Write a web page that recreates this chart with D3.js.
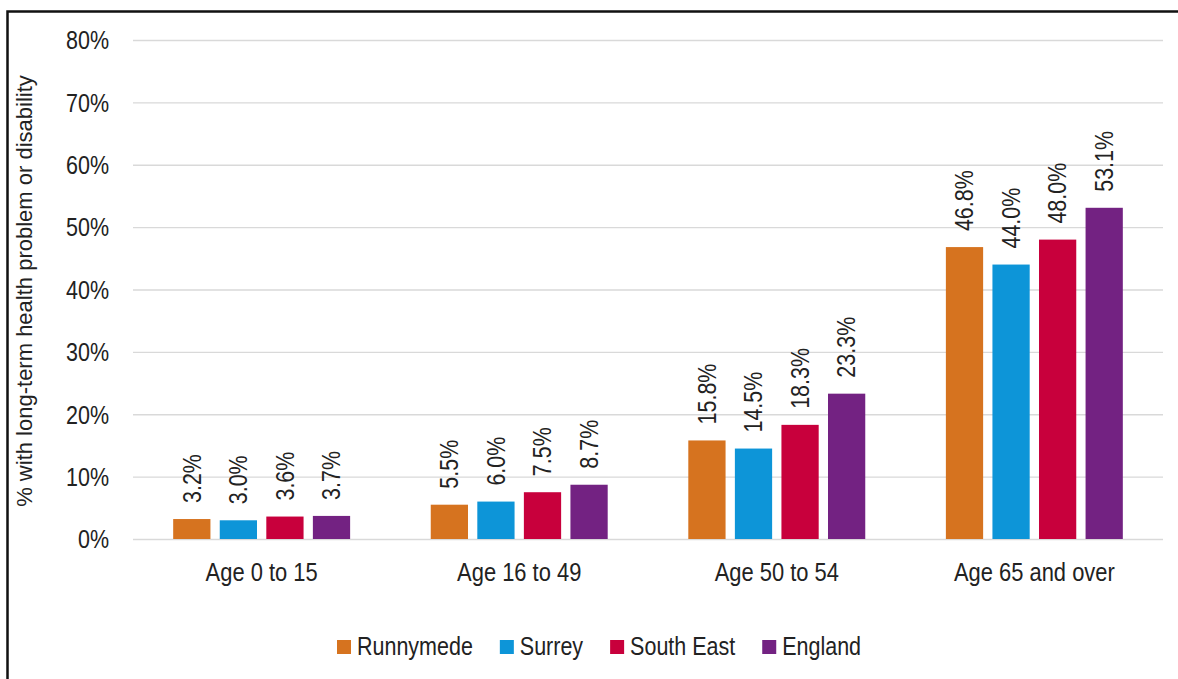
<!DOCTYPE html>
<html>
<head>
<meta charset="utf-8">
<script src="https://cdn.jsdelivr.net/npm/d3@7/dist/d3.min.js"></script>
<style>
  html, body { margin: 0; padding: 0; background: #fff; }
  svg { display: block; }
  text { font-family: "Liberation Sans", Arial, sans-serif; fill: #222; }
</style>
</head>
<body>
<svg id="chart" width="1178" height="679"></svg>
<script>
// Age bands on the x axis
const ageGroups = ["Age 0 to 15", "Age 16 to 49", "Age 50 to 54", "Age 65 and over"];
// Areas compared within each age band
const areas = ["Runnymede", "Surrey", "South East", "England"];
const areaColors = ["#D6731F", "#0D95D8", "#C8003C", "#732282"];
// % with long-term health problem or disability, one array per area
const runnymede = [3.2, 5.5, 15.8, 46.8];
const surrey    = [3.0, 6.0, 14.5, 44.0];
const southEast = [3.6, 7.5, 18.3, 48.0];
const england   = [3.7, 8.7, 23.3, 53.1];
const yTicks = [0, 10, 20, 30, 40, 50, 60, 70, 80];
const yTitle = "% with long-term health problem or disability";

const seriesValues = [runnymede, surrey, southEast, england];

// horizontal squeeze giving a condensed ("narrow") look to the labels
const SQ = 0.86;

const svg = d3.select("#chart");

// outer frame
svg.append("rect")
  .attr("x", 7.5).attr("y", 11.5)
  .attr("width", 1200).attr("height", 700)
  .attr("fill", "none").attr("stroke", "#111").attr("stroke-width", 2.5);

const plot = { left: 133, right: 1163, top: 40, bottom: 539 };

const y = d3.scaleLinear().domain([0, 80]).range([plot.bottom, plot.top]);
const x0 = d3.scaleBand().domain(ageGroups).range([plot.left, plot.right])
  .paddingInner(0.313).paddingOuter(0.156);
const x1 = d3.scaleBand().domain(areas).range([0, x0.bandwidth()]).paddingInner(0.2);
const color = d3.scaleOrdinal().domain(areas).range(areaColors);

// gridlines + y tick labels
const yAxis = d3.axisLeft(y).tickValues(yTicks)
  .tickSize(-(plot.right - plot.left))
  .tickPadding(24)
  .tickFormat(d => d + "%");
const gy = svg.append("g")
  .attr("transform", `translate(${plot.left},0)`)
  .call(yAxis);
gy.select(".domain").remove();
gy.selectAll(".tick line").attr("stroke", "#d9d9d9").attr("stroke-width", 1.3);
gy.selectAll(".tick text")
  .attr("font-size", 25)
  .attr("fill", "#262626")
  .attr("x", -24 / SQ)
  .attr("dy", "0.35em")
  .attr("transform", `scale(${SQ},1)`);

// y axis title
svg.append("text")
  .attr("font-size", 22)
  .attr("text-anchor", "middle")
  .attr("transform", `translate(32,${291}) rotate(-90)`)
  .text(yTitle);

// category labels
const gx = svg.append("g")
  .attr("transform", `translate(0,${plot.bottom})`)
  .call(d3.axisBottom(x0).tickSize(0).tickPadding(0));
gx.select(".domain").remove();
gx.selectAll(".tick text")
  .attr("font-size", 25.5)
  .attr("fill", "#222")
  .attr("y", 42)
  .attr("dy", 0)
  .attr("transform", `scale(${SQ},1)`);

// bars and value labels
const groups = svg.append("g").selectAll("g")
  .data(ageGroups)
  .join("g")
  .attr("transform", d => `translate(${x0(d)},0)`);

const cells = groups.selectAll("g")
  .data((g, gi) => areas.map((a, ai) => ({ area: a, value: seriesValues[ai][gi] })))
  .join("g");

cells.append("rect")
  .attr("x", d => x1(d.area))
  .attr("y", d => y(d.value))
  .attr("width", x1.bandwidth())
  .attr("height", d => y(0) - y(d.value))
  .attr("fill", d => color(d.area));

cells.append("text")
  .attr("font-size", 25)
  .attr("transform", d => `translate(${x1(d.area) + x1.bandwidth() / 2},${y(d.value) - 16}) rotate(-90) scale(${SQ},1)`)
  .attr("dy", "0.35em")
  .attr("text-anchor", "start")
  .text(d => d.value.toFixed(1) + "%");

// legend
const legend = svg.append("g").attr("transform", "translate(337,0)");
let lx = 0;
areas.forEach(a => {
  const item = legend.append("g").attr("transform", `translate(${lx},0)`);
  item.append("rect")
    .attr("x", 0).attr("y", 640)
    .attr("width", 14).attr("height", 14)
    .attr("fill", color(a));
  const t = item.append("text")
    .attr("font-size", 25)
    .attr("transform", `translate(20,655) scale(${SQ},1)`)
    .text(a);
  lx += 20 + t.node().getComputedTextLength() * SQ + 27;
});
</script>
</body>
</html>
